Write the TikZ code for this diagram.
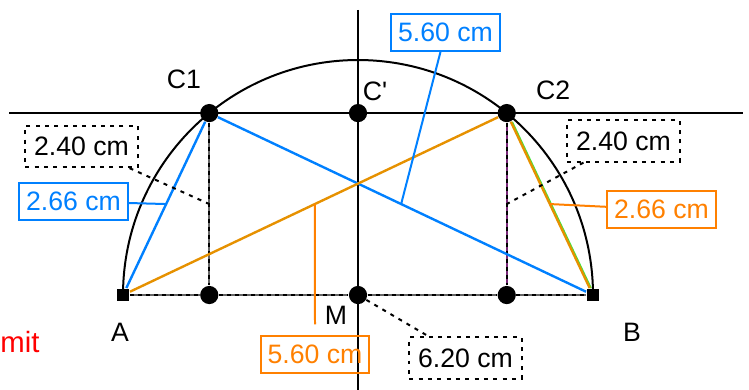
\documentclass[tikz,border=0pt]{standalone}
\usepackage{fontspec}
\setmainfont{Liberation Sans}
\usetikzlibrary{calc}
\definecolor{geoblue}{RGB}{0,128,255}
\definecolor{geoorange}{RGB}{230,145,0}
\definecolor{lblorange}{RGB}{255,128,0}
\definecolor{geopurple}{RGB}{120,40,120}
\definecolor{geogreen}{RGB}{60,230,60}
\begin{document}
\begin{tikzpicture}[
    dot/.style={circle, fill=black, inner sep=0pt, minimum size=0.24cm},
    sqpt/.style={rectangle, fill=black, inner sep=0pt, minimum size=0.17cm},
    lbl/.style={font=\fontsize{10}{12}\selectfont},
    dimbox/.style={draw, line width=0.75pt, inner xsep=2.6pt, inner ysep=3.4pt, font=\fontsize{10}{12}\selectfont},
    dashbox/.style={dimbox, inner xsep=3.3pt, inner ysep=4.2pt, dash pattern=on 1.5pt off 2pt},
    dimdash/.style={line width=0.75pt, dash pattern=on 1.5pt off 1.5pt},
    baseline/.style={line width=0.75pt, black!60},
    ]
        \useasboundingbox (-4.723,-1.253) rectangle (5.158,3.892);
        % points
        \node[sqpt] (A) at (-3.1,0) {};
        \node[sqpt] (B) at (3.1,0) {};
        \node[dot] (F1) at (-1.962,0) {};\node[dot] (M) at (0,0) {};\node[dot] (F2) at (1.962,0) {};
        \node[dot] (C1) at (-1.962,2.4) {};\node[dot] (Cp) at (0,2.4) {};\node[dot] (C2) at (1.962,2.4) {};
        % middle points
        \coordinate (mAC1) at ($(A)!0.5!(C1)$);\coordinate (mC1B) at ($(C1)!0.5!(B)$);
        \coordinate (mAC2) at ($(A)!0.5!(C2)$);\coordinate (mC2B) at ($(C2)!0.5!(B)$);
        \coordinate (mC1F1) at ($(C1)!0.5!(F1)$);\coordinate (mC2F2) at ($(C2)!0.5!(F2)$);
        % x line and y line
        \draw [line width=0.75pt] (-4.60,2.4) -- (5.08,2.4);
        \draw [line width=0.75pt] (0,3.76) -- (0,-1.253);
        % half circle
        \draw [line width=0.75pt] (A.center) arc (180:0:3.1);
        % dashed lines
        \draw [baseline] (A) -- (F1);\draw [dimdash] (A) -- (F1);
        \draw [baseline] (F1) -- (M);\draw [dimdash] (F1) -- (M);
        \draw [baseline] (M) -- (F2);\draw [dimdash] (M) -- (F2);
        \draw [baseline] (F2) -- (B);\draw [dimdash] (F2) -- (B);
        \draw [baseline] (C1) -- (F1);\draw [dimdash] (C1) -- (F1);
        \draw [baseline, geopurple] (C2) -- (F2);\draw [dimdash] (C2) -- (F2);
        % blue and orange lines
        \draw [line width=0.9pt, geoblue] (A) -- (C1);\draw [line width=0.9pt, geoblue] (C1) -- (B);
        \draw [line width=0.9pt, geoorange] (A) -- (C2);
        \draw [line width=0.6pt, geogreen, transform canvas={xshift=0.5pt}] (C2) -- (B);
        \draw [line width=0.9pt, geoorange] (C2) -- (B);
        % letter
        \node[lbl] (lC1) at (-2.296,2.85) {C1};
        \node[lbl] (lCp) at (0.224,2.69) {C\textquotesingle};
        \node[lbl] (lC2) at (2.573,2.704) {C2};
        \node[lbl] (lA) at (-3.140,-0.488) {A};
        \node[lbl] (lB) at (3.615,-0.488) {B};
        \node[lbl] (lM) at (-0.290,-0.264) {M};
        \node[font=\fontsize{11}{13}\selectfont, text=red, anchor=base east, inner sep=0pt] (lmit) at (-4.195,-0.752) {mit};
        % length boxes
        \node[dashbox] (d240l) at (-3.647,1.959) {2.40 cm};
        \node[dashbox] (d240r) at (3.503,2.032) {2.40 cm};
        \node[dashbox] (d620) at (1.418,-0.831) {6.20 cm};
        \node[dimbox, draw=geoblue, text=geoblue] (b266) at (-3.753,1.234) {2.66 cm};
        \node[dimbox, draw=geoblue, text=geoblue] (b560) at (1.154,3.463) {5.60 cm};
        \node[dimbox, draw=lblorange, text=lblorange] (o266) at (4.004,1.128) {2.66 cm};
        \node[dimbox, draw=lblorange, text=lblorange] (o560) at (-0.567,-0.785) {5.60 cm};
        % leader lines
        \draw [line width=0.75pt, geoblue] (b266) -- (mAC1);
        \draw [line width=0.75pt, geoblue] (b560) -- (mC1B);
        \draw [line width=0.75pt, lblorange] (o266) -- (mC2B);
        \draw [line width=0.75pt, lblorange, shorten <=4pt] (o560) -- (mAC2);
        \draw [dimdash, dash pattern=on 1.5pt off 2pt] (d240l) -- (mC1F1);
        \draw [dimdash, dash pattern=on 1.5pt off 2pt] (d240r) -- (mC2F2);
        \draw [dimdash, dash pattern=on 1.5pt off 2pt] (M) -- (d620);
    \end{tikzpicture}
\end{document}
